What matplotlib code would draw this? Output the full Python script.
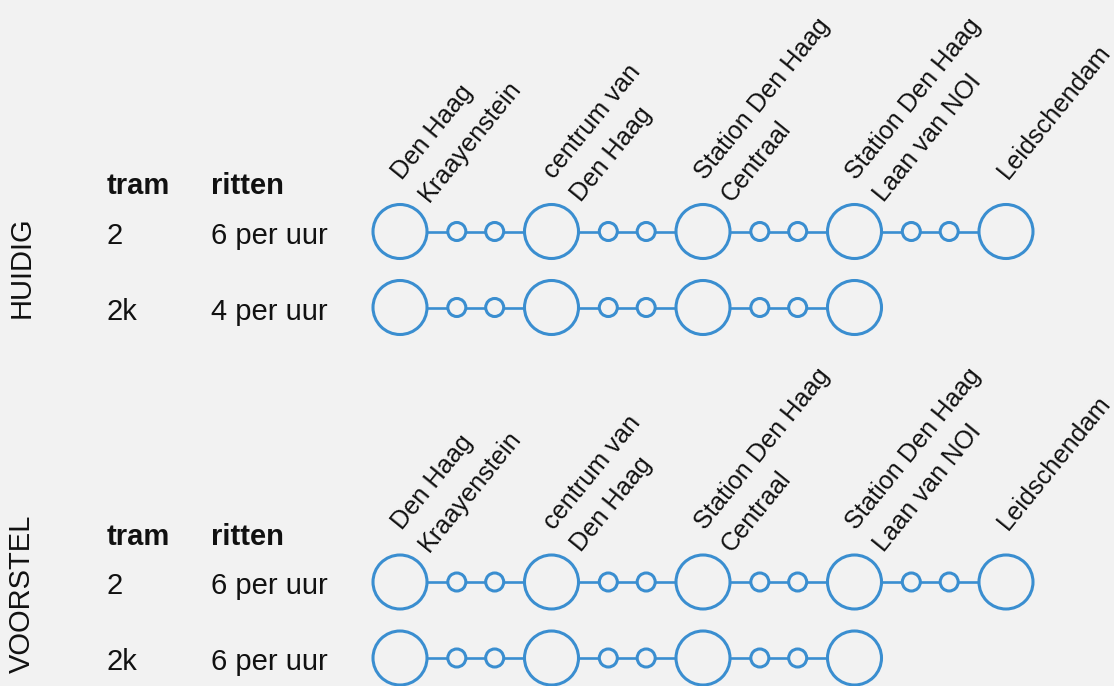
import numpy as np
from matplotlib import pyplot as plt
from matplotlib.patches import Circle

# stations along line 2 and the scenarios
stations = ["Den Haag\nKraayenstein", "centrum van\nDen Haag", "Station Den Haag\nCentraal",
            "Station Den Haag\nLaan van NOI", "Leidschendam"]
scenarios = ["HUIDIG", "VOORSTEL"]
trams = ["2", "2k"]
ritten_huidig = ["6 per uur", "4 per uur"]
ritten_voorstel = ["6 per uur", "6 per uur"]
ritten = [ritten_huidig, ritten_voorstel]
stations_served = [5, 4]      # number of big stations each tram reaches
stops_between = 2             # small stops between two stations

BLUE = "#3a8ed0"
BG = "#f2f2f2"
INK = "#111111"
FONT = "Liberation Sans"
FS = 21
FS_LABEL = 18.2
ANGLE = 51

fig = plt.figure(figsize=(11.14, 6.86), dpi=100, facecolor=BG)
ax = fig.add_axes([0, 0, 1, 1])
ax.set_facecolor(BG)
ax.set_xlim(0, 1114)
ax.set_ylim(686, 0)
ax.axis('off')

x0, dx = 400, 151.5
block_top = [231.5, 582]
scen_y = [36, 12]
row_gap = 76
big_r, small_r = 27, 9
# second label line sits one line height further, perpendicular to the text
step_x = 35 * np.sin(np.radians(ANGLE))
step_y = 35 * np.cos(np.radians(ANGLE))

for b, scen in enumerate(scenarios):
    y_top = block_top[b]
    # scenario label, rotated
    ax.text(22, y_top + scen_y[b], scen, rotation=90, ha='center', va='center',
            fontsize=FS, family=FONT, color=INK)
    # header
    ax.text(107, y_top - 37, "tram", fontsize=FS, family=FONT, weight='bold',
            ha='left', va='baseline', color=INK)
    ax.text(211, y_top - 37, "ritten", fontsize=FS, family=FONT, weight='bold',
            ha='left', va='baseline', color=INK)
    # station names, one text per line
    for i, name in enumerate(stations):
        for j, part in enumerate(name.split("\n")):
            ax.text(x0 + i * dx + 2 + j * step_x, y_top - 51 + j * step_y, part,
                    rotation=ANGLE, rotation_mode='anchor', ha='left', va='baseline',
                    fontsize=FS_LABEL, family=FONT, color=INK)
    for r, tram in enumerate(trams):
        y = y_top + r * row_gap
        ax.text(107, y + 12, tram, fontsize=FS, family=FONT, ha='left', va='baseline',
                color=INK)
        ax.text(211, y + 12, ritten[b][r], fontsize=FS, family=FONT, ha='left',
                va='baseline', color=INK)
        n = stations_served[r]
        xs = x0 + np.arange(n) * dx
        ax.plot([xs[0], xs[-1]], [y, y], color=BLUE, lw=1.9, zorder=1,
                solid_capstyle='butt')
        for xc in xs:
            ax.add_patch(Circle((xc, y), big_r, facecolor=BG, edgecolor=BLUE, lw=2.2, zorder=2))
        for xc in xs[:-1]:
            for k in range(stops_between):
                xs_small = xc + dx * (0.375 + 0.25 * k)
                ax.add_patch(Circle((xs_small, y), small_r, facecolor=BG, edgecolor=BLUE,
                                    lw=2.2, zorder=2))

fig.savefig("out.png", dpi=100, facecolor=BG)
